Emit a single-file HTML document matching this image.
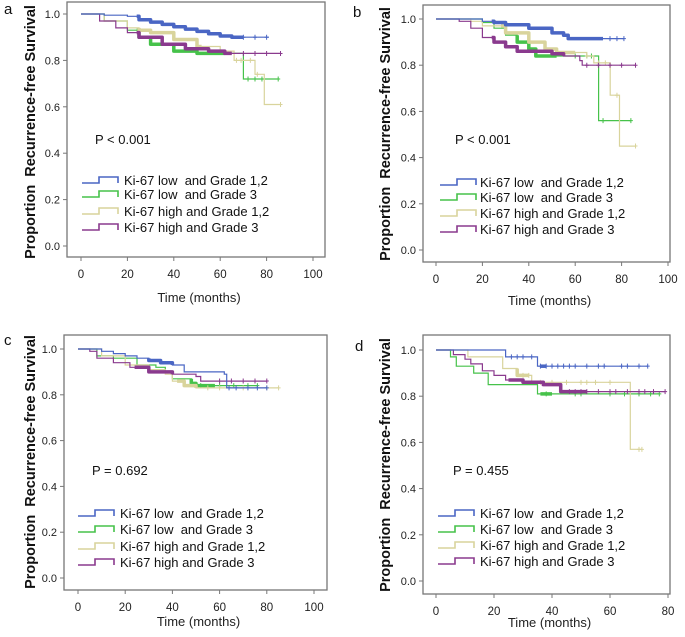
<!DOCTYPE html>
<html><head><meta charset="utf-8">
<style>
html,body{margin:0;padding:0;background:#fff;}
body{width:685px;height:632px;overflow:hidden;font-family:"Liberation Sans",Arial,sans-serif;}
text{white-space:pre;}
</style></head>
<body>
<svg id="fig" width="685" height="632" viewBox="0 0 685 632" xmlns="http://www.w3.org/2000/svg" font-family="Liberation Sans, Arial, sans-serif"></svg>
<script>
// ---- data (months, survival proportion); each point = drop to value at time ----
const seriesNames = ["Ki-67 low  and Grade 1,2","Ki-67 low  and Grade 3","Ki-67 high and Grade 1,2","Ki-67 high and Grade 3"];
const seriesColors = ["#4a66c4","#46c24a","#d9d49c","#8a3a8e"];
const pValues = ["P < 0.001","P < 0.001","P = 0.692","P = 0.455"];
const xTicksAB = [0,20,40,60,80,100];
const xTicksC = [0,20,40,60,80,100];
const xTicksD = [0,20,40,60,80];
const yTicks = [0.0,0.2,0.4,0.6,0.8,1.0];

const aBlue = [[0,1],[10,0.995],[20,0.99],[25,0.975],[30,0.965],[35,0.955],[40,0.945],[45,0.935],[50,0.925],[55,0.915],[60,0.905],[65,0.9],[81,0.9]];
const aGreen = [[0,1],[10,0.97],[20,0.93],[25,0.9],[30,0.87],[40,0.84],[50,0.83],[69,0.83],[70,0.72],[85,0.72]];
const aTan = [[0,1],[10,0.97],[20,0.94],[25,0.93],[30,0.92],[40,0.89],[50,0.86],[60,0.84],[66,0.8],[75,0.74],[79,0.61],[86,0.61]];
const aPurple = [[0,1],[8,0.97],[15,0.94],[20,0.92],[25,0.9],[35,0.87],[45,0.85],[55,0.84],[62,0.83],[86,0.83]];
const aBands = [[24,70],[24,62],[25,52],[24,65]];

const bBlue = [[0,1],[20,0.99],[25,0.985],[30,0.975],[40,0.96],[50,0.94],[55,0.93],[57,0.915],[81,0.915]];
const bGreen = [[0,1],[15,1],[20,0.985],[25,0.96],[30,0.93],[35,0.9],[40,0.87],[43,0.84],[70,0.84],[70.1,0.56],[84,0.56]];
const bTan = [[0,1],[15,0.99],[20,0.97],[30,0.94],[40,0.9],[47,0.87],[52,0.855],[65,0.84],[68,0.81],[75,0.81],[75.1,0.67],[79,0.67],[79.1,0.45],[86,0.45]];
const bPurple = [[0,1],[10,0.99],[15,0.96],[20,0.92],[25,0.9],[30,0.88],[35,0.86],[50,0.85],[55,0.84],[62,0.82],[63,0.8],[86,0.8]];
const bBands = [[24,72],[35,52],[28,60],[24,55]];

const cBlue = [[0,1],[10,0.99],[15,0.98],[20,0.97],[25,0.96],[30,0.95],[35,0.94],[40,0.93],[45,0.9],[62,0.89],[63,0.83],[80,0.83]];
const cGreen = [[0,1],[8,0.97],[15,0.96],[25,0.93],[33,0.92],[37,0.9],[40,0.87],[48,0.85],[50,0.84],[76,0.84]];
const cTan = [[0,1],[10,0.97],[20,0.93],[30,0.91],[37,0.89],[40,0.86],[45,0.84],[50,0.83],[85,0.83]];
const cPurple = [[0,1],[5,0.99],[8,0.96],[15,0.94],[22,0.92],[30,0.9],[40,0.89],[50,0.88],[52,0.86],[80,0.86]];
const cBands = [[30,40],[48,58],[42,50],[24,40]];

const dBlue = [[0,1],[24,0.97],[35,0.93],[73,0.93]];
const dGreen = [[0,1],[5,0.97],[7,0.93],[13,0.9],[18,0.85],[35,0.81],[77,0.81]];
const dTan = [[0,1],[11,0.97],[23,0.92],[28,0.89],[33,0.86],[66.9,0.86],[67,0.57],[71,0.57]];
const dPurple = [[0,1],[6,0.98],[10,0.96],[12,0.94],[16,0.91],[20,0.89],[24,0.87],[30,0.86],[37,0.85],[43,0.82],[79,0.82]];
const dBands = [[36,38],[36,40],[28,32],[25,52]];

const aCens = [[70,75,80],[72,75,78,85],[67,69,73,76,86],[70,75,80,86]];
const bCens = [[75,78,81],[60,65,67,72,84],[65,70,73,78,86],[65,70,75,80,86]];
const cCens = [[64,67,72,76,80],[52,60,66,72,76],[55,60,70,80,85],[60,65,70,75,80]];
const dCens = [[26,28,30,33,36,38,40,42,44,46,48,52,56,58,64,66,70,73],[38,48,50,60,65,70,74,77],[30,32,36,40,45,50,52,55,60,70,71],[46,48,50,52,56,60,62,66,70,72,75,79]];

// ---- layout ----
const panels = [
 {id:"a",letter:[4,14],frame:[67,2,325,257],x0:81,xEnd:313,xmax:100,ticks:xTicksAB,y1:14,y0:246,data:[aBlue,aGreen,aTan,aPurple],bands:aBands,cens:aCens,p:[95,144],leg:[82,124,[180,194,211,227]],xt:302,yt:[30,132]},
 {id:"b",letter:[353,17],frame:[423,5,670,262],x0:436,xEnd:668,xmax:100,ticks:xTicksAB,y1:19,y0:250,data:[bBlue,bGreen,bTan,bPurple],bands:bBands,cens:bCens,p:[455,144],leg:[440,480,[182,197,213,229]],xt:305,yt:[385,134]},
 {id:"c",letter:[4,345],frame:[64,335,327,590],x0:78,xEnd:314,xmax:100,ticks:xTicksC,y1:349,y0:578,data:[cBlue,cGreen,cTan,cPurple],bands:cBands,cens:cCens,p:[92,475],leg:[78,120,[513,529,546,562]],xt:626,yt:[30,462]},
 {id:"d",letter:[355,351],frame:[423,335,670,594],x0:436,xEnd:668,xmax:80,ticks:xTicksD,y1:350,y0:581,data:[dBlue,dGreen,dTan,dPurple],bands:dBands,cens:dCens,p:[453,475],leg:[438,480,[513,529,545,561]],xt:627,yt:[385,465]}
];
const NS="http://www.w3.org/2000/svg";
const svg=document.getElementById("fig");
function mk(tag,attrs,parent){const e=document.createElementNS(NS,tag);for(const k in attrs)e.setAttribute(k,attrs[k]);(parent||svg).appendChild(e);return e;}
function txt(s,attrs,parent){const e=mk("text",attrs,parent);e.textContent=s;return e;}
function stepAt(d,t){let v=d[0][1];for(const p of d){if(p[0]<=t)v=p[1];}return v;}
function stepPath(d,xs,ys,t0,t1){let pts=[];let prev=null;for(let i=0;i<d.length;i++){const t=d[i][0],v=d[i][1];if(t>t1)break;if(prev!==null&&t>=t0){pts.push([xs(t),ys(prev)]);}if(t>=t0)pts.push([xs(t),ys(v)]);else if(i===d.length-1||d[i+1][0]>t0){pts.push([xs(t0),ys(v)]);}prev=v;}if(prev!==null)pts.push([xs(Math.min(t1,d[d.length-1][0])),ys(prev)]);return "M"+pts.map(p=>p[0].toFixed(1)+","+p[1].toFixed(1)).join("L");}

panels.forEach(P=>{
 const g=mk("g",{});
 
 
 const xs=t=>P.x0+(P.xEnd-P.x0)*t/P.xmax;
 const ys=v=>P.y0+(P.y1-P.y0)*v;
 const lt=txt(P.id,{x:P.letter[0],y:P.letter[1],"font-size":15,fill:"#111"},g);
 
 
 const [fl,ft,fr,fb]=P.frame;
 const fr_=mk("rect",{x:fl,y:ft,width:fr-fl,height:fb-ft,fill:"none",stroke:"#777","stroke-width":1.3},g);
 
 
 yTicks.forEach(v=>{
  mk("line",{x1:fl-4,x2:fl,y1:ys(v),y2:ys(v),stroke:"#777"},g);
  const t=txt(v.toFixed(1),{x:fl-7,y:ys(v)+4,"font-size":11,"text-anchor":"end",fill:"#222"},g);
  
  
 });
 P.ticks.forEach(v=>{
  mk("line",{x1:xs(v),x2:xs(v),y1:fb,y2:fb+4,stroke:"#777"},g);
  const t=txt(String(v),{x:xs(v),y:fb+21,"font-size":11.5,"text-anchor":"middle",fill:"#222"},g);
  
  
 });
 const xt=txt("Time (months)",{x:(fl+fr)/2+3,y:P.xt,"font-size":13,"text-anchor":"middle",fill:"#222"},g);
 
 
 const yt=txt("Proportion  Recurrence-free Survival",{x:0,y:0,"font-size":14.5,"font-weight":"bold","text-anchor":"middle",fill:"#111",transform:`translate(${P.yt[0]+5},${P.yt[1]}) rotate(-90)`},g);
 
 
 const pt=txt(pValues["abcd".indexOf(P.id)],{x:P.p[0],y:P.p[1],"font-size":13,fill:"#111"},g);
 
 
 [1,2,3,0].forEach(i=>{
  const d=P.data[i];const end=d[d.length-1][0];
  const c=mk("path",{d:stepPath(d,xs,ys,0,end),fill:"none",stroke:seriesColors[i],"stroke-width":1.2},g);
  
  
  const b=P.bands[i];
  const bd=mk("path",{d:stepPath(d,xs,ys,b[0],b[1]),fill:"none",stroke:seriesColors[i],"stroke-width":3.5,"stroke-linejoin":"round"},g);
  
  
  P.cens[i].forEach(t=>{
   const x=xs(t),y=ys(stepAt(d,t));
   const m=mk("path",{d:`M${x-2},${y}H${x+2}M${x},${y-2.5}V${y+2.5}`,stroke:seriesColors[i],"stroke-width":1},g);
   
   
  });
 });
 P.leg[2].forEach((y,i)=>{
  const sx=P.leg[0];
  const sw=mk("path",{d:`M${sx},${y+3}H${sx+17}V${y-3}H${sx+36}V${y+3}`,fill:"none",stroke:seriesColors[i],"stroke-width":1.6},g);
  
  
  const lt2=txt(seriesNames[i],{x:P.leg[1],y:y+5,"font-size":13,fill:"#111"},g);
  
  
 });
});
</script>
</body></html>
